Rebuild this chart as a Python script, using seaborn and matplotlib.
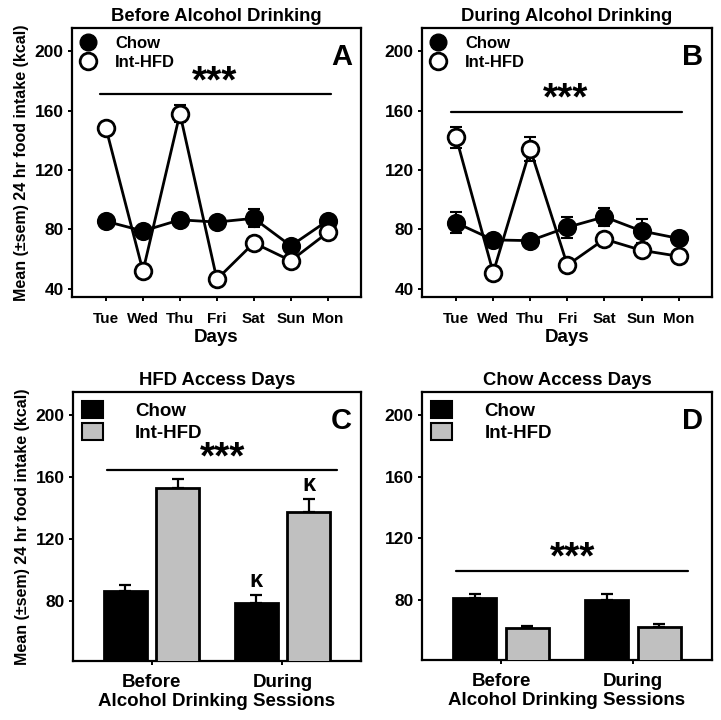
import numpy as np
import pandas as pd
import seaborn as sns
import matplotlib
matplotlib.use("Agg")
import matplotlib.pyplot as plt
from matplotlib.lines import Line2D
from matplotlib.patches import Patch

# ---------------- data ----------------
days = ["Tue", "Wed", "Thu", "Fri", "Sat", "Sun", "Mon"]
groups = ["Chow", "Int-HFD"]

a_chow = [85.5, 79, 86.5, 85, 87.5, 69, 86]
a_chow_sem = [3, 2.5, 4, 2.5, 6, 3, 2.5]
a_hfd = [148, 52, 158, 46.5, 71, 59, 78]
a_hfd_sem = [3, 2, 6, 2, 2, 2, 2]

b_chow = [84.5, 73, 72.5, 81.5, 88.5, 79, 74]
b_chow_sem = [7, 2.5, 3, 7, 6, 8, 2.5]
b_hfd = [142, 51, 134, 56, 73.5, 66, 62]
b_hfd_sem = [7, 2, 8, 2, 2, 2, 2]

sessions = ["Before", "During"]
c_chow = [86.5, 78.5]
c_chow_sem = [4, 5]
c_hfd = [153, 137.5]
c_hfd_sem = [5.5, 8]

d_chow = [81.3, 80]
d_chow_sem = [2.4, 3.7]
d_hfd = [61.8, 62.3]
d_hfd_sem = [1.3, 2]

titles = ["Before Alcohol Drinking", "During Alcohol Drinking",
          "HFD Access Days", "Chow Access Days"]
letters = ["A", "B", "C", "D"]
ylab = "Mean (\u00b1sem) 24 hr food intake (kcal)"

# ---------------- style ----------------
sns.set_theme(style="ticks")
plt.rcParams["font.family"] = ["Liberation Sans", "DejaVu Sans"]
plt.rcParams["font.weight"] = "bold"
plt.rcParams["axes.labelweight"] = "bold"
plt.rcParams["axes.titleweight"] = "bold"
plt.rcParams["axes.linewidth"] = 1.6
for k in ["text.color", "axes.labelcolor", "xtick.color", "ytick.color",
          "axes.edgecolor"]:
    plt.rcParams[k] = "black"

fig = plt.figure(figsize=(7.21, 7.2), dpi=100)
axA = fig.add_axes([0.0999, 0.5875, 0.4008, 0.3736])
axB = fig.add_axes([0.5853, 0.5875, 0.4022, 0.3736])
axC = fig.add_axes([0.1012, 0.0819, 0.3994, 0.3736])
axD = fig.add_axes([0.5853, 0.0833, 0.4022, 0.3722])

BLACK = "black"
GREY = "#c0c0c0"


def style_axes(ax, ylim):
    for s in ax.spines.values():
        s.set_visible(True)
        s.set_linewidth(1.6)
        s.set_color("black")
    ax.tick_params(direction="out", length=3, width=1.4, colors="black",
                   labelsize=12.5, pad=3)
    ax.set_yticks([40, 80, 120, 160, 200])
    ax.set_ylim(*ylim)
    for lab in ax.get_yticklabels():
        lab.set_fontweight("bold")
    ax.grid(False)


def stars(ax, x, y):
    ax.annotate("***", xy=(x, y), xytext=(0, 1.5), textcoords="offset points",
                ha="center", va="baseline", fontsize=28, fontweight="bold")


def letter_text(ax, letter):
    ax.text(0.969, 0.945, letter, transform=ax.transAxes, ha="right", va="top",
            fontsize=21, fontweight="bold")


def line_panel(ax, chow, chow_sem, hfd, hfd_sem, title, letter, sig_y, ylabel):
    df = pd.DataFrame({
        "day": days * 2,
        "kcal": list(chow) + list(hfd),
        "group": ["Chow"] * 7 + ["Int-HFD"] * 7,
    })
    x = np.arange(len(days))
    ax.errorbar(x, chow, yerr=chow_sem, fmt="none", ecolor=BLACK,
                elinewidth=1.5, capsize=4, capthick=1.5, zorder=2)
    ax.errorbar(x, hfd, yerr=hfd_sem, fmt="none", ecolor=BLACK,
                elinewidth=1.5, capsize=4, capthick=1.5, zorder=2)
    sns.lineplot(data=df[df.group == "Chow"], x="day", y="kcal", ax=ax,
                 color=BLACK, marker="o", markersize=12, markerfacecolor=BLACK,
                 markeredgecolor=BLACK, markeredgewidth=1.8, linewidth=2,
                 legend=False, zorder=3, sort=False)
    sns.lineplot(data=df[df.group == "Int-HFD"], x="day", y="kcal", ax=ax,
                 color=BLACK, marker="o", markersize=12, markerfacecolor="white",
                 markeredgecolor=BLACK, markeredgewidth=2, linewidth=2,
                 legend=False, zorder=4, sort=False)
    ax.set_xlim(-0.92, 6.9)
    style_axes(ax, (34.6, 215.5))
    ax.tick_params(axis="x", pad=8)
    ax.set_xticks(x)
    ax.set_xticklabels(days, fontsize=11, fontweight="bold")
    ax.set_xlabel("Days", fontsize=13.5, fontweight="bold", labelpad=2)
    ax.set_ylabel(ylabel, fontsize=11.5, fontweight="bold", labelpad=4)
    ax.set_title(title, fontsize=13.3, fontweight="bold", pad=5)
    handles = [
        Line2D([], [], marker="o", color=BLACK, markerfacecolor=BLACK,
               markersize=12, linestyle="none"),
        Line2D([], [], marker="o", color=BLACK, markerfacecolor="white",
               markeredgewidth=2, markersize=12, linestyle="none"),
    ]
    ax.legend(handles, groups, loc="upper left", frameon=False,
              prop={"weight": "bold", "size": 12},
              handletextpad=1.15, labelspacing=0.24,
              borderaxespad=0.05, handlelength=1.0,
              bbox_to_anchor=(0.0, 1.0))
    letter_text(ax, letter)
    ax.plot([-0.15, 6.08], [sig_y, sig_y], color=BLACK, lw=1.6)
    stars(ax, 2.95, sig_y)


def bar_panel(ax, chow, chow_sem, hfd, hfd_sem, title, letter, sig_y, ylabel):
    df = pd.DataFrame({
        "session": sessions * 2,
        "kcal": list(chow) + list(hfd),
        "group": ["Chow"] * 2 + ["Int-HFD"] * 2,
    })
    sns.barplot(data=df, x="session", y="kcal", hue="group",
                palette=[BLACK, GREY], edgecolor=BLACK, linewidth=2,
                gap=0.18, errorbar=None, ax=ax, legend=False, zorder=3)
    # error bars (upward only) from the bars' own positions
    bars = sorted(ax.patches, key=lambda p: p.get_x())
    vals = [chow[0], hfd[0], chow[1], hfd[1]]
    sems = [chow_sem[0], hfd_sem[0], chow_sem[1], hfd_sem[1]]
    xs = [p.get_x() + p.get_width() / 2 for p in bars]
    ax.errorbar(xs, vals, yerr=[[0] * 4, sems], fmt="none", ecolor=BLACK,
                elinewidth=1.6, capsize=4, capthick=1.6, zorder=2)
    ax.set_xlim(-0.6, 1.6)
    style_axes(ax, (41, 215))
    ax.tick_params(axis="x", pad=6)
    ax.set_xticks([0, 1])
    ax.set_xticklabels(sessions, fontsize=13.5, fontweight="bold")
    ax.set_xlabel("Alcohol Drinking Sessions", fontsize=13.5, fontweight="bold",
                  labelpad=2)
    ax.set_ylabel(ylabel, fontsize=11.5, fontweight="bold", labelpad=4)
    ax.set_title(title, fontsize=13.3, fontweight="bold", pad=5)
    handles = [Patch(facecolor=BLACK, edgecolor=BLACK, linewidth=1.5),
               Patch(facecolor=GREY, edgecolor=BLACK, linewidth=1.5)]
    ax.legend(handles, groups, loc="upper left", frameon=False,
              prop={"weight": "bold", "size": 13.5},
              handletextpad=1.7, labelspacing=0.15, borderaxespad=0.1,
              handlelength=1.12, handleheight=1.0,
              bbox_to_anchor=(0.0, 1.0))
    letter_text(ax, letter)
    ax.plot([-0.34, 1.42], [sig_y, sig_y], color=BLACK, lw=1.6)
    stars(ax, 0.54, sig_y)
    return xs, vals, sems


line_panel(axA, a_chow, a_chow_sem, a_hfd, a_hfd_sem, titles[0], letters[0], 171, ylab)
line_panel(axB, b_chow, b_chow_sem, b_hfd, b_hfd_sem, titles[1], letters[1], 159, "")
xs, vals, sems = bar_panel(axC, c_chow, c_chow_sem, c_hfd, c_hfd_sem, titles[2], letters[2], 164.5, ylab)
# kappa marks on "During" bars in panel C
for i in (2, 3):
    axC.text(xs[i], vals[i] + sems[i] + 2, "\u03ba", ha="center", va="bottom",
             fontsize=17, fontweight="bold")
bar_panel(axD, d_chow, d_chow_sem, d_hfd, d_hfd_sem, titles[3], letters[3], 98.8, "")

fig.savefig("out.png", dpi=100)
